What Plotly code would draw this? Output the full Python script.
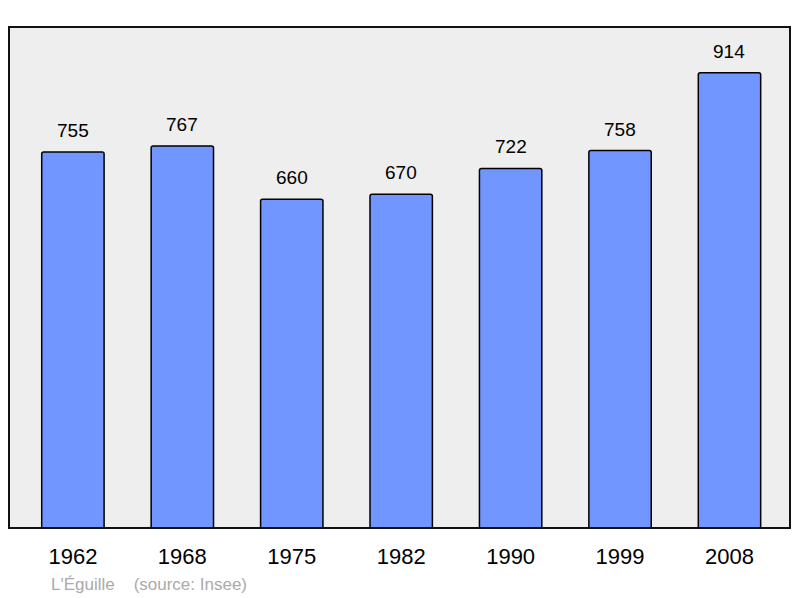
import plotly.graph_objects as go

years = ["1962", "1968", "1975", "1982", "1990", "1999", "2008"]
population = [755, 767, 660, 670, 722, 758, 914]
place_name = "L'Éguille"
source_note = "(source: Insee)"

# page body has an 8px margin, so the figure is drawn 8px smaller and shifted
fig = go.Figure()
fig.add_trace(go.Bar(
    x=list(range(len(years))), y=population, width=0.57,
    marker=dict(color="#7296ff", line=dict(color="black", width=1.5), cornerradius=2),
    hoverinfo="skip",
))

for i, val in enumerate(population):
    fig.add_annotation(x=i, y=val, text=str(val), showarrow=False,
                       yanchor="bottom", yshift=9,
                       font=dict(family="Liberation Sans, Arial", size=19, color="black"))

fig.add_shape(type="rect", xref="paper", yref="paper", x0=0, y0=0, x1=1, y1=1,
              line=dict(color="#111111", width=2))

fig.add_annotation(xref="paper", yref="paper", x=0.051, y=-0.112, xanchor="left", yanchor="middle",
                   text=place_name + "&nbsp;&nbsp;&nbsp;&nbsp;" + source_note, showarrow=False,
                   font=dict(family="Liberation Sans, Arial", size=17, color="#aaaaaa"))

fig.update_layout(
    width=792, height=590,
    margin=dict(l=1, r=10, t=19, b=70),
    paper_bgcolor="white", plot_bgcolor="#eeeeee",
    showlegend=False,
    xaxis=dict(range=[-0.584, 6.553], showgrid=False, zeroline=False,
               tickmode="array", tickvals=list(range(len(years))), ticktext=years,
               ticks="outside", ticklen=9, tickcolor="rgba(0,0,0,0)",
               tickfont=dict(family="Liberation Sans, Arial", size=22, color="black")),
    yaxis=dict(range=[0, 1006], showgrid=False, zeroline=False, showticklabels=False),
)

fig.write_html("out.html")
